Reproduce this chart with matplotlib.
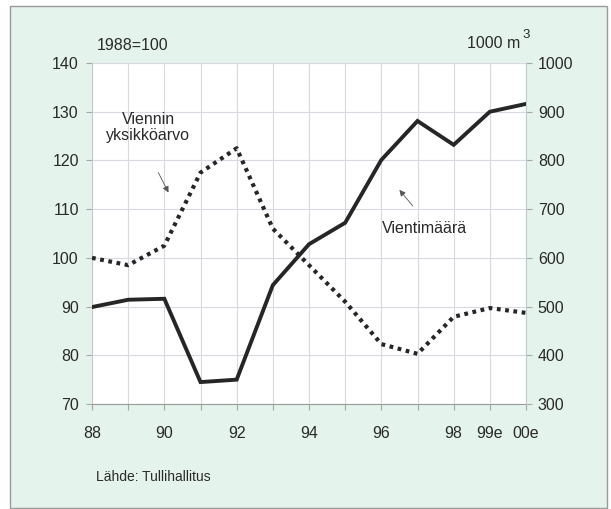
import numpy as np
import matplotlib.pyplot as plt
from matplotlib.patches import Rectangle

plt.rcParams['font.family'] = ['Liberation Sans', 'DejaVu Sans']

# %% data
years = ['88', '89', '90', '91', '92', '93', '94', '95', '96', '97', '98', '99e', '00e']
tick_labels = ['88', '', '90', '', '92', '', '94', '', '96', '', '98', '99e', '00e']
unit_value = [100, 98.5, 102.5, 117.5, 122.5, 106, 98.5, 91, 82.3, 80.3, 87.9, 89.7, 88.7]   # 1988=100, left axis
volume = [499, 514, 516, 345, 350, 544, 628, 672, 801, 881, 832, 900, 916]                    # 1000 m3, right axis

bg = '#e4f3ec'
txt = '#2a2a2a'
grid_c = '#d9d9e2'
fs = 11.5

fig = plt.figure(figsize=(6.11, 5.09), dpi=100)
fig.patch.set_facecolor('white')
fig.patches.append(Rectangle((10/611, 1-508/509), 597/611, 502/509, transform=fig.transFigure,
                             facecolor=bg, edgecolor='#9a9a9a', linewidth=1, zorder=-10))

ax = fig.add_axes([92/611, 1-404/509, 434/611, 341/509])
ax.set_facecolor('white')
x = np.arange(len(years))

ax.plot(x, unit_value, color='#262626', linewidth=3, linestyle=(0, (0.9, 1.1)),
        dash_capstyle='butt', zorder=3)

ax2 = ax.twinx()
ax2.plot(x, volume, color='#262626', linewidth=2.8, solid_joinstyle='miter', zorder=3)

ax.set_xlim(0, 12)
ax.set_ylim(70, 140)
ax2.set_ylim(300, 1000)
ax.set_xticks(x)
ax.set_xticklabels(tick_labels)
ax.set_yticks(np.arange(70, 141, 10))
ax2.set_yticks(np.arange(300, 1001, 100))

ax.grid(True, color=grid_c, linewidth=0.8)
ax.set_axisbelow(True)
for a in (ax, ax2):
    for s in a.spines.values():
        s.set_visible(False)
ax.spines['bottom'].set_visible(True)
ax.spines['bottom'].set_color('#9a9a9a')
ax.spines['left'].set_visible(True)
ax.spines['left'].set_color('#c8c8d0')
ax2.spines['right'].set_visible(True)
ax2.spines['right'].set_color('#c8c8d0')

ax.tick_params(axis='both', colors='#a8a8a8', labelcolor=txt, labelsize=fs, length=4.5, width=0.8)
ax.tick_params(axis='y', pad=5)
ax.tick_params(axis='x', pad=11)
ax2.tick_params(axis='y', colors='#a8a8a8', labelcolor=txt, labelsize=fs, length=4.5, width=0.8, pad=4)

fig.text(97/611, 1-45/509, '1988=100', fontsize=fs, color=txt, va='center', ha='left')
fig.text(520/611, 1-44/509, '1000 m', fontsize=fs, color=txt, va='center', ha='right')
fig.text(526/611, 1-35/509, '3', fontsize=9.5, color=txt, va='center', ha='center')
fig.text(96/611, 1-477/509, 'Lähde: Tullihallitus', fontsize=10, color=txt, va='center', ha='left')

ax.text(1.55, 126.8, 'Viennin\nyksikköarvo', fontsize=fs, color=txt, ha='center', va='center',
        linespacing=1.1)
ax.annotate('', xy=(2.15, 112.9), xytext=(1.8, 118.0),
            arrowprops=dict(arrowstyle='-|>', color='#555555', lw=0.6, mutation_scale=9))
ax.text(9.2, 106.1, 'Vientimäärä', fontsize=fs, color=txt, ha='center', va='center')
ax.annotate('', xy=(8.45, 114.4), xytext=(8.92, 110.2),
            arrowprops=dict(arrowstyle='-|>', color='#555555', lw=0.6, mutation_scale=9))

fig.savefig('out.png', dpi=100, facecolor=fig.get_facecolor())
